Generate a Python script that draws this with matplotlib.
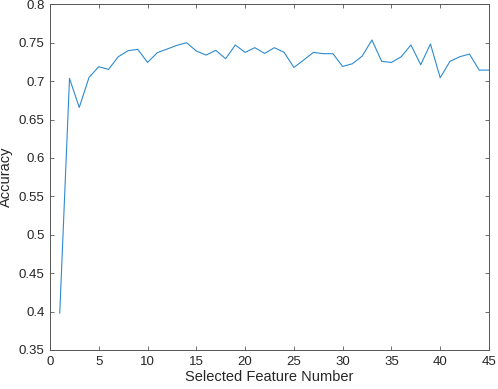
import matplotlib
matplotlib.use("Agg")
import matplotlib.pyplot as plt

feature_number = list(range(1, 46))
accuracy = [0.398, 0.7035, 0.6657, 0.7048, 0.7187, 0.7152, 0.7317, 0.7396, 0.7413, 0.7243,
            0.737, 0.7417, 0.7465, 0.750, 0.7391, 0.7339, 0.740, 0.7291, 0.747, 0.7374,
            0.7435, 0.736, 0.7435, 0.7374, 0.7178, 0.7274, 0.7374, 0.7357, 0.7357, 0.7191,
            0.7226, 0.7326, 0.7535, 0.7257, 0.7243, 0.7317, 0.747, 0.7213, 0.7483, 0.7043,
            0.7257, 0.7317, 0.7352, 0.7143, 0.7143]
x_ticks = [0, 5, 10, 15, 20, 25, 30, 35, 40, 45]
y_ticks = [0.35, 0.4, 0.45, 0.5, 0.55, 0.6, 0.65, 0.7, 0.75, 0.8]
y_tick_labels = ["0.35", "0.4", "0.45", "0.5", "0.55", "0.6", "0.65", "0.7", "0.75", "0.8"]

plt.rcParams['font.family'] = ['Liberation Sans', 'DejaVu Sans']
fig = plt.figure(figsize=(4.98, 3.89), dpi=100)
ax = fig.add_axes([0.1004, 0.1003, 0.8815, 0.8887])
ax.plot(feature_number, accuracy, color='#2E8BD0', linewidth=0.8)
ax.set_xlim(0, 45)
ax.set_ylim(0.35, 0.8)
ax.set_xticks(x_ticks)
ax.set_yticks(y_ticks)
ax.set_yticklabels(y_tick_labels)
for s in ax.spines.values():
    s.set_color('#555555')
    s.set_linewidth(0.7)
ax.tick_params(direction='in', length=3, width=0.6, color='#555555', labelcolor='#262626',
               labelsize=9.5, top=True, right=True, labeltop=False, labelright=False, pad=4)
ax.set_xlabel('Selected Feature Number', fontsize=10.5, color='#262626', labelpad=2)
ax.set_ylabel('Accuracy', fontsize=10.5, color='#262626', labelpad=4)
fig.savefig('out.png', dpi=100)
